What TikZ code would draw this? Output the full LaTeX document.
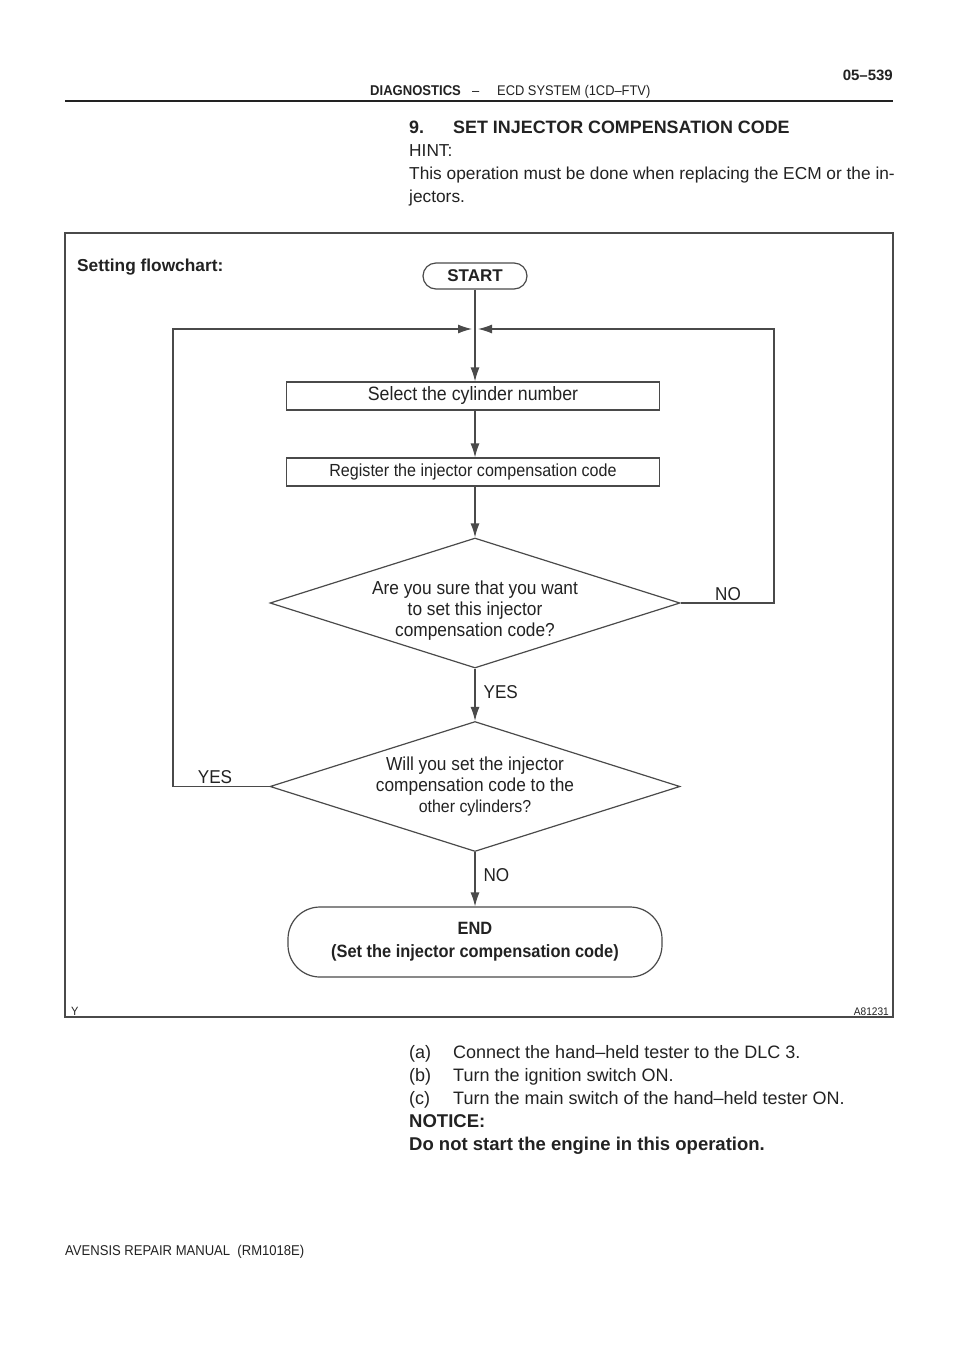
\documentclass[tikz,border=0pt]{standalone}
\usepackage{fontspec}
\setmainfont{Liberation Sans}
\newfontfamily\narrow[FakeStretch=0.92]{Liberation Sans}
\usetikzlibrary{positioning, shapes.geometric, arrows.meta}

\definecolor{linegray}{HTML}{4A4A4A}
\definecolor{inkgray}{HTML}{222222}

\tikzset{
  >={Latex[length=14pt,width=9pt]},
  txt/.style={anchor=base west, inner sep=0pt, text=inkgray, font=\fontsize{18}{21}\selectfont},
  lbl/.style={inner sep=0pt, text=inkgray, font=\narrow\fontsize{18.6}{21}\selectfont},
  box/.style={draw=linegray, line width=1.2pt, minimum width=373pt, minimum height=28pt,
    inner sep=0pt, text=inkgray, font=\narrow\fontsize{19.3}{22}\selectfont},
  decision/.style={diamond, draw=linegray, line width=1.2pt, inner sep=0pt,
    minimum width=410pt, minimum height=130pt},
  dtext/.style={inner sep=0pt, align=center, text=inkgray, font=\narrow\fontsize{18.8}{21}\selectfont},
  term/.style={draw=linegray, line width=1.2pt, rounded corners=#1, inner sep=0pt,
    text=inkgray, align=center},
  flow/.style={draw=linegray, line width=1.2pt}
}

\begin{document}
\begin{tikzpicture}[x=1pt, y=-1pt, node distance=100pt, on grid]
\useasboundingbox[fill=white] (0,0) rectangle (960,1358);

% page header
\node[txt, anchor=base east, font=\bfseries\fontsize{15}{18}\selectfont] (page) at (893,80) {05–539};
\node[txt, font=\narrow\bfseries\fontsize{14.2}{17}\selectfont] (sect) at (370,95) {DIAGNOSTICS};
\node[txt, font=\narrow\fontsize{14}{17}\selectfont] (dash) at (472,95) {–};
\node[txt, font=\narrow\fontsize{14}{17}\selectfont] (sys) at (497,95) {ECD SYSTEM (1CD–FTV)};
\draw[line width=2pt, inkgray] (65,101) -- (893,101);

% step text
\node[txt, font=\bfseries\fontsize{17.9}{21}\selectfont] (num) at (409,133) {9.};
\node[txt, font=\bfseries\fontsize{17.9}{21}\selectfont] (title) at (453,133) {SET INJECTOR COMPENSATION CODE};
\node[txt, font=\fontsize{17.3}{21}\selectfont] (hint) at (409,156) {HINT:};
\node[txt, font=\fontsize{17.3}{21}\selectfont] (hint1) at (409,179) {This operation must be done when replacing the ECM or the in-};
\node[txt, font=\fontsize{17.3}{21}\selectfont] (hint2) at (409,202) {jectors.};

% figure frame
\draw[line width=1.6pt, linegray] (65,233) rectangle (893,1017);
\node[lbl, anchor=base west, font=\bfseries\fontsize{17.3}{20}\selectfont] (cap) at (77,271) {Setting flowchart:};
\node[lbl, anchor=base west, font=\narrow\fontsize{12}{14}\selectfont] (ymark) at (71,1015) {Y};
\node[lbl, anchor=base east, font=\narrow\fontsize{11}{13}\selectfont] (fig) at (889,1015) {A81231};

% flowchart
\node[term=13pt, minimum width=104pt, minimum height=26pt, font=\bfseries\fontsize{17}{20}\selectfont] (start) at (475,276) {START};
\node[box, xshift=-2pt] (sel) [below=120pt of start] {Select the cylinder number};
\node[box, font=\narrow\fontsize{17.5}{20}\selectfont] (reg) [below=76pt of sel] {Register the injector compensation code};
\node[decision, xshift=2pt] (sure) [below=131pt of reg] {};
\node[decision] (other) [below=183.5pt of sure] {};
\node[dtext] (suretxt) at ([yshift=-8pt]sure.center) {Are you sure that you want\\to set this injector\\compensation code?};
\node[dtext] (othertxt) at (other.center) {Will you set the injector\\compensation code to the\\{\fontsize{17.3}{20}\selectfont other cylinders?}};
\node[term=32pt, minimum width=374pt, minimum height=70pt, font=\narrow\bfseries\fontsize{17.8}{23}\selectfont] (end) [below=155.5pt of other] {END\\(Set the injector compensation code)};

\coordinate (join) at (475,329);
\coordinate (nocol) at (774,329);
\coordinate (yescol) at (173,329);

\draw[flow, ->] (start) -- (start |- sel.north);
\draw[flow, ->] (start |- sel.south) -- (start |- reg.north);
\draw[flow, ->] (start |- reg.south) -- (sure);
\draw[flow, ->] (sure) -- node[lbl, anchor=west, xshift=8pt, pos=0.45] (yes1) {YES} (other);
\draw[flow, ->] (other) -- node[lbl, anchor=west, xshift=8pt, pos=0.42] (no2) {NO} (end);
\draw[flow, ->, shorten >=3pt] (sure.east) -| (nocol) -- (join);
\draw[flow, ->, shorten >=3pt] (other.west) -| (yescol) -- (join);
\node[lbl] (no1) at (728,594) {NO};
\node[lbl] (yes2) at (215,777) {YES};

% steps
\node[txt] (la) at (409,1058) {(a)};
\node[txt] (ta) at (453,1058) {Connect the hand–held tester to the DLC 3.};
\node[txt] (lb) at (409,1081) {(b)};
\node[txt] (tb) at (453,1081) {Turn the ignition switch ON.};
\node[txt] (lc) at (409,1104) {(c)};
\node[txt] (tc) at (453,1104) {Turn the main switch of the hand–held tester ON.};
\node[txt, font=\bfseries\fontsize{18.5}{21}\selectfont] (note) at (409,1127) {NOTICE:};
\node[txt, font=\bfseries\fontsize{18.5}{21}\selectfont] (note1) at (409,1150) {Do not start the engine in this operation.};

% page footer
\node[txt, font=\narrow\fontsize{14.2}{16}\selectfont] (foot) at (65,1255) {AVENSIS REPAIR MANUAL\ \ (RM1018E)};
\end{tikzpicture}
\end{document}
